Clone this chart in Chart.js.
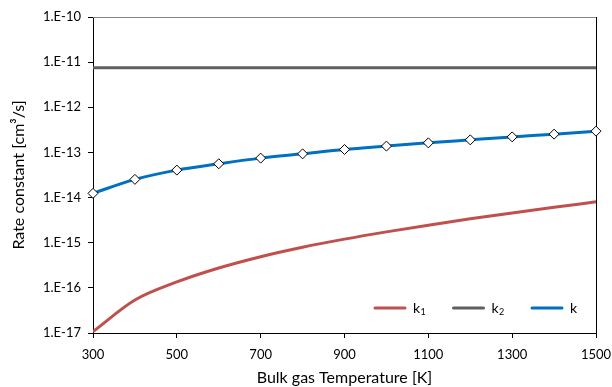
<!DOCTYPE html>
<html>
<head>
<meta charset="utf-8">
<script src="https://cdn.jsdelivr.net/npm/chart.js@4.4.1/dist/chart.umd.min.js"></script>
<style>
  html, body { margin: 0; padding: 0; background: #fff; }
  #wrap { width: 612px; height: 387px; }
</style>
</head>
<body>
<div id="wrap"><canvas id="chart"></canvas></div>
<script>
// bulk gas temperature [K]
const temps = [300, 400, 500, 600, 700, 800, 900, 1000, 1100, 1200, 1300, 1400, 1500];
// rate constants [cm3/s]
const k1 = [1.07e-17, 5.37e-17, 1.35e-16, 2.75e-16, 4.9e-16, 7.94e-16, 1.2e-15, 1.74e-15, 2.45e-15, 3.39e-15, 4.57e-15, 6.1e-15, 8.04e-15];
const k2 = [7.5e-12, 7.5e-12, 7.5e-12, 7.5e-12, 7.5e-12, 7.5e-12, 7.5e-12, 7.5e-12, 7.5e-12, 7.5e-12, 7.5e-12, 7.5e-12, 7.5e-12];
const k = [1.24e-14, 2.53e-14, 4.06e-14, 5.6e-14, 7.48e-14, 9.3e-14, 1.16e-13, 1.38e-13, 1.63e-13, 1.9e-13, 2.21e-13, 2.54e-13, 2.96e-13];

const seriesNames = ['k', 'k', 'k'];
const seriesSubs = ['1', '2', ''];
const xTicks = [300, 500, 700, 900, 1100, 1300, 1500];
const yTicks = [1e-17, 1e-16, 1e-15, 1e-14, 1e-13, 1e-12, 1e-11, 1e-10];

const FONT = 'Lato, "Open Sans", sans-serif';

const toPoints = (ys) => temps.map((t, i) => ({ x: t, y: ys[i] }));

// top (grey) and right (black) frame lines
const framePlugin = {
    id: 'frame',
    beforeDatasetsDraw(chart) {
        const { ctx, chartArea: a } = chart;
        ctx.save();
        ctx.lineWidth = 1;
        ctx.strokeStyle = '#868686';
        ctx.beginPath();
        ctx.moveTo(a.left, a.top + 0.5);
        ctx.lineTo(a.right, a.top + 0.5);
        ctx.stroke();
        ctx.strokeStyle = '#000';
        ctx.beginPath();
        ctx.moveTo(a.right + 0.5, a.top);
        ctx.lineTo(a.right + 0.5, a.bottom);
        ctx.stroke();
        ctx.restore();
    }
};

// legend inside the plot, bottom right, with subscripts
const legendPlugin = {
    id: 'insideLegend',
    afterDraw(chart) {
        const { ctx, chartArea: a } = chart;
        const y = a.bottom - 25;
        let x = a.right - 221;
        ctx.save();
        chart.data.datasets.forEach((ds, i) => {
            ctx.strokeStyle = ds.borderColor;
            ctx.lineWidth = 3;
            ctx.lineCap = 'round';
            ctx.beginPath();
            ctx.moveTo(x, y);
            ctx.lineTo(x + 30, y);
            ctx.stroke();
            ctx.fillStyle = '#000';
            ctx.textBaseline = 'middle';
            ctx.font = '14px ' + FONT;
            ctx.fillText(seriesNames[i], x + 38, y);
            const w = ctx.measureText(seriesNames[i]).width;
            ctx.font = '9px ' + FONT;
            ctx.fillText(seriesSubs[i], x + 38 + w + 0.5, y + 4);
            x += 78.5;
        });
        ctx.restore();
    }
};

new Chart(document.getElementById('chart'), {
    type: 'line',
    data: {
        datasets: [
            {
                label: 'k\u2081',
                data: toPoints(k1),
                borderColor: '#C0504D',
                borderWidth: 3,
                pointRadius: 0,
                cubicInterpolationMode: 'monotone',
            },
            {
                label: 'k\u2082',
                data: toPoints(k2),
                borderColor: '#5F5F5F',
                borderWidth: 3,
                pointRadius: 0,
            },
            {
                label: 'k',
                data: toPoints(k),
                borderColor: '#0070C0',
                borderWidth: 3,
                cubicInterpolationMode: 'monotone',
                pointStyle: 'rectRot',
                pointRadius: 5,
                pointBackgroundColor: '#fff',
                pointBorderColor: '#000',
                pointBorderWidth: 1,
                clip: false,
            },
        ]
    },
    options: {
        responsive: true,
        maintainAspectRatio: false,
        animation: false,
        devicePixelRatio: 1,
        layout: { padding: { top: 17, right: 16, left: 0, bottom: 0 } },
        plugins: {
            legend: { display: false },
            tooltip: { enabled: false },
        },
        scales: {
            x: {
                type: 'linear',
                min: 300,
                max: 1500,
                afterBuildTicks: (s) => { s.ticks = xTicks.map(v => ({ value: v })); },
                afterFit: (s) => {
                    s.height = 54;
                    s.paddingLeft = 0;
                    s.paddingRight = 0;
                },
                grid: { display: true, drawOnChartArea: false, drawTicks: true, tickLength: 5, color: '#000' },
                border: { display: true, color: '#000', width: 1 },
                ticks: {
                    color: '#000',
                    font: { family: FONT, size: 13 },
                    padding: 9,
                    maxRotation: 0,
                    callback: (v) => String(v),
                },
                title: {
                    display: true,
                    text: 'Bulk gas Temperature [K]',
                    color: '#000',
                    font: { family: FONT, size: 16 },
                    padding: { top: 0, bottom: 0 },
                },
            },
            y: {
                type: 'logarithmic',
                min: 1e-17,
                max: 1e-10,
                afterBuildTicks: (s) => { s.ticks = yTicks.map(v => ({ value: v })); },
                afterFit: (s) => { s.width = 93; },
                grid: { display: true, drawOnChartArea: false, drawTicks: true, tickLength: 5, color: '#000' },
                border: { display: true, color: '#000', width: 1 },
                ticks: {
                    color: '#000',
                    font: { family: FONT, size: 13 },
                    padding: 7,
                    callback: (v) => '1.E' + Math.round(Math.log10(v)),
                },
                title: {
                    display: true,
                    text: 'Rate constant [cm\u00B3/s]',
                    color: '#000',
                    font: { family: FONT, size: 16 },
                    padding: { top: 9, bottom: 0 },
                },
            },
        },
    },
    plugins: [framePlugin, legendPlugin],
});
</script>
</body>
</html>
